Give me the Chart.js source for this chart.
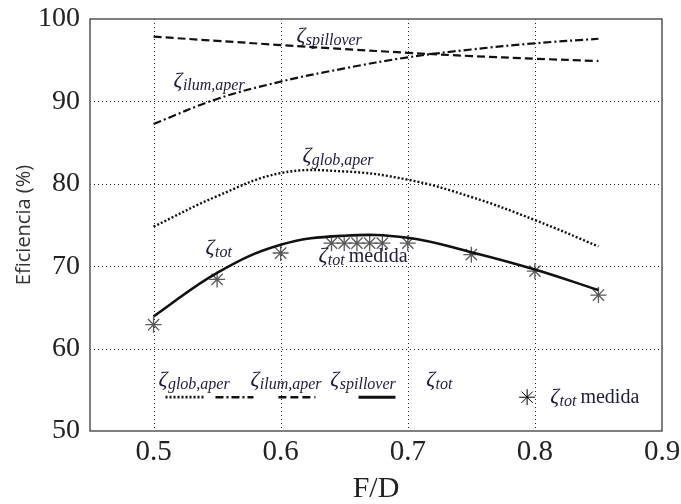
<!DOCTYPE html>
<html>
<head>
<meta charset="utf-8">
<script src="https://cdn.jsdelivr.net/npm/chart.js@4/dist/chart.umd.min.js"></script>
<style>
  html, body { margin: 0; padding: 0; background: #fff; }
  #wrap { width: 681px; height: 504px; }
</style>
</head>
<body>
<div id="wrap"><canvas id="c" width="681" height="504"></canvas></div>
<script>
// F/D sample points of the computed efficiency curves (%)
const fdCurve = [0.5, 0.55, 0.6, 0.65, 0.7, 0.75, 0.8, 0.85];
const zetaSpillover = [97.86, 97.35, 96.84, 96.35, 95.9, 95.5, 95.18, 94.9];
const zetaIlumAper = [87.26, 90.3, 92.4, 94.0, 95.35, 96.3, 97.05, 97.6];
const zetaGlobAper = [74.8, 78.5, 81.3, 81.5, 80.5, 78.4, 75.6, 72.4];
const zetaTot = [63.9, 69.2, 72.6, 73.7, 73.45, 71.7, 69.6, 67.1];

// measured total efficiency
const fdMeasured = [0.5, 0.55, 0.6, 0.64, 0.65, 0.66, 0.67, 0.68, 0.7, 0.75, 0.8, 0.85];
const zetaTotMeasured = [62.9, 68.4, 71.6, 72.8, 72.8, 72.8, 72.8, 72.8, 72.8, 71.4, 69.4, 66.5];

const xTicks = [0.5, 0.6, 0.7, 0.8, 0.9];
const yTicks = [50, 60, 70, 80, 90, 100];

const labelColor = '#1d1d36';
const styles = {
  glob: { dash: [2, 2], width: 2.4 },
  ilum: { dash: [8, 3, 2, 3], width: 2.2 },
  spill: { dash: [8, 4], width: 2.2 },
  tot: { dash: [], width: 2.6 }
};

// curve labels inside the plot (in data units)
const curveLabels = [
  { fd: 0.6124, eff: 97.2, sub: 'spillover' },
  { fd: 0.5157, eff: 91.8, sub: 'ilum,aper' },
  { fd: 0.6171, eff: 82.6, sub: 'glob,aper' },
  { fd: 0.5409, eff: 71.5, sub: 'tot' },
  { fd: 0.6297, eff: 70.5, sub: 'tot', tail: 'medida' }
];

// key at the bottom of the plot
const keyItems = [
  { sub: 'glob,aper', style: 'glob', lx: 0.5039, x0: 0.5094, x1: 0.5393 },
  { sub: 'ilum,aper', style: 'ilum', lx: 0.5762, x0: 0.5487, x1: 0.5786 },
  { sub: 'spillover', style: 'spill', lx: 0.6391, x0: 0.5982, x1: 0.6273 },
  { sub: 'tot', style: 'tot', lx: 0.7145, x0: 0.6612, x1: 0.6903 }
];
const keyLabelEff = 55.5;
const keyLineEff = 54.1;
const keyStar = { fd: 0.7939, eff: 54.1, textFd: 0.812 };

function pts(xs, ys) { return xs.map((x, i) => ({ x: x, y: ys[i] })); }

function curve(data, st) {
  return {
    type: 'line', data: data, borderColor: '#111', backgroundColor: '#111',
    borderWidth: styles[st].width, borderDash: styles[st].dash,
    pointRadius: 0, tension: 0.4, fill: false
  };
}

function drawZeta(ctx, x, y, sub, tail) {
  ctx.save();
  ctx.fillStyle = labelColor;
  ctx.textAlign = 'left';
  ctx.textBaseline = 'alphabetic';
  ctx.font = 'italic 22px "Liberation Serif"';
  ctx.fillText('\u03B6', x, y);
  let w = ctx.measureText('\u03B6').width;
  ctx.font = 'italic 16px "Liberation Serif"';
  ctx.fillText(sub, x + w + 0.5, y + 3);
  w += ctx.measureText(sub).width + 0.5;
  if (tail) {
    ctx.font = '20px "Liberation Serif"';
    ctx.fillText(tail, x + w + 4, y);
  }
  ctx.restore();
}

const framePlugin = {
  id: 'frameGrid',
  beforeDatasetsDraw(chart) {
    const { ctx, chartArea: a, scales: { x, y } } = chart;
    ctx.save();
    ctx.strokeStyle = '#222';
    ctx.lineWidth = 1;
    ctx.setLineDash([1, 3]);
    xTicks.forEach(v => {
      if (v <= x.min || v >= x.max) return;
      const px = Math.round(x.getPixelForValue(v)) + 0.5;
      ctx.beginPath(); ctx.moveTo(px, a.top); ctx.lineTo(px, a.bottom); ctx.stroke();
    });
    yTicks.forEach(v => {
      if (v <= y.min || v >= y.max) return;
      const py = Math.round(y.getPixelForValue(v)) + 0.5;
      ctx.beginPath(); ctx.moveTo(a.left, py); ctx.lineTo(a.right, py); ctx.stroke();
    });
    ctx.restore();
  },
  afterDatasetsDraw(chart) {
    const { ctx, chartArea: a, scales: { x, y } } = chart;
    // plot frame
    ctx.save();
    ctx.strokeStyle = '#555';
    ctx.lineWidth = 1.5;
    ctx.setLineDash([]);
    ctx.strokeRect(a.left, a.top, a.right - a.left, a.bottom - a.top);
    ctx.restore();

    curveLabels.forEach(l => drawZeta(ctx, x.getPixelForValue(l.fd), y.getPixelForValue(l.eff), l.sub, l.tail));

    keyItems.forEach(k => {
      drawZeta(ctx, x.getPixelForValue(k.lx), y.getPixelForValue(keyLabelEff), k.sub);
      const st = styles[k.style];
      const py = y.getPixelForValue(keyLineEff);
      ctx.save();
      ctx.strokeStyle = '#111';
      ctx.lineWidth = st.width + 0.4;
      ctx.setLineDash(st.dash);
      ctx.beginPath();
      ctx.moveTo(x.getPixelForValue(k.x0), py);
      ctx.lineTo(x.getPixelForValue(k.x1), py);
      ctx.stroke();
      ctx.restore();
    });

    ctx.save();
    Chart.helpers.drawPoint(ctx, {
      pointStyle: 'star', radius: 8, borderWidth: 1.6, rotation: 0
    }, x.getPixelForValue(keyStar.fd), y.getPixelForValue(keyStar.eff));
    ctx.restore();
    drawZeta(ctx, x.getPixelForValue(keyStar.textFd), y.getPixelForValue(keyStar.eff) + 6, 'tot', 'medida');
  }
};

new Chart(document.getElementById('c'), {
  data: {
    datasets: [
      curve(pts(fdCurve, zetaSpillover), 'spill'),
      curve(pts(fdCurve, zetaIlumAper), 'ilum'),
      curve(pts(fdCurve, zetaGlobAper), 'glob'),
      curve(pts(fdCurve, zetaTot), 'tot'),
      {
        type: 'scatter', data: pts(fdMeasured, zetaTotMeasured),
        showLine: false, pointStyle: 'star', pointRadius: 8,
        borderColor: '#5a5a5a', backgroundColor: '#5a5a5a', borderWidth: 1.3
      }
    ]
  },
  options: {
    responsive: false,
    animation: false,
    events: [],
    layout: { padding: { top: 19, right: 19, left: 0, bottom: 0 } },
    plugins: { legend: { display: false }, tooltip: { enabled: false } },
    scales: {
      x: {
        type: 'linear', min: 0.45, max: 0.9,
        afterBuildTicks: s => { s.ticks = xTicks.map(v => ({ value: v })); },
        afterFit: s => { s.height = 73; },
        grid: { display: false, drawTicks: false },
        border: { display: false },
        ticks: {
          autoSkip: false, maxRotation: 0, padding: 0, color: '#222',
          font: { family: 'Liberation Serif', size: 29, lineHeight: 1.45 },
          callback: v => v.toFixed(1)
        },
        title: {
          display: true, text: 'F/D', color: '#222',
          font: { family: 'Liberation Serif', size: 30, lineHeight: 1 },
          padding: { top: 0, bottom: 0 }
        }
      },
      y: {
        type: 'linear', min: 50, max: 100,
        afterBuildTicks: s => { s.ticks = yTicks.map(v => ({ value: v })); },
        afterFit: s => { s.width = 90; },
        grid: { display: false, drawTicks: false },
        border: { display: false },
        ticks: {
          padding: 10, color: '#222',
          font: { family: 'Liberation Serif', size: 28, lineHeight: 0.6 }
        },
        title: {
          display: true, text: 'Eficiencia (%)', color: '#333',
          font: { family: 'Open Sans', size: 20 },
          padding: { top: 12, bottom: 0 }
        }
      }
    }
  },
  plugins: [framePlugin]
});
</script>
</body>
</html>
